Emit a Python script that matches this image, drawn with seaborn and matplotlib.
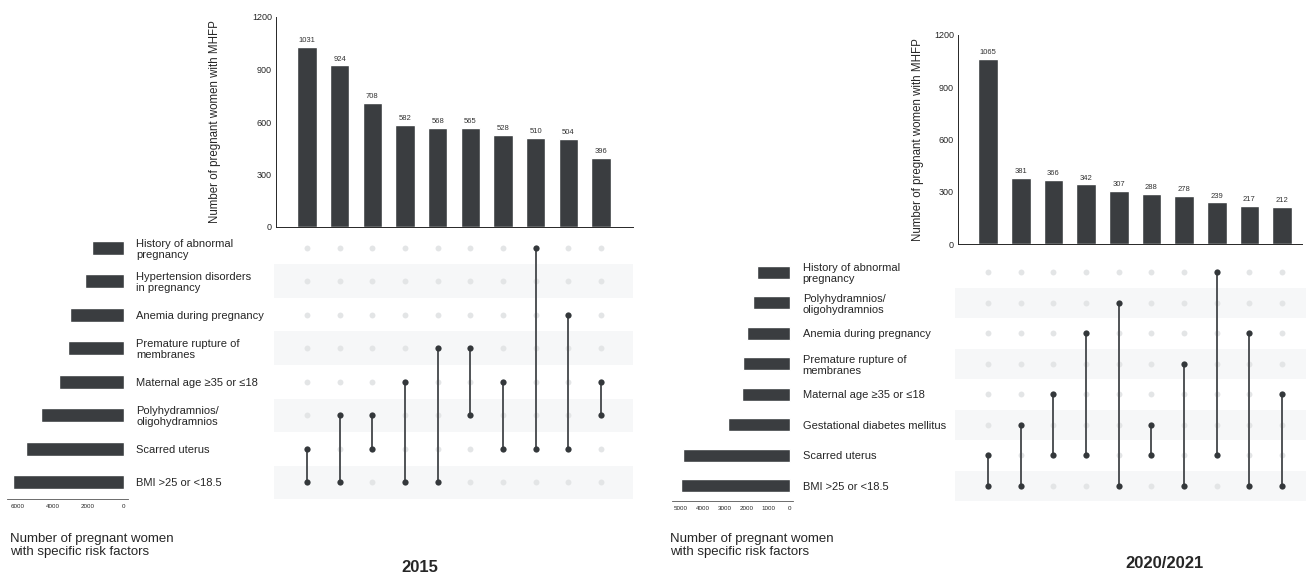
import matplotlib
matplotlib.use("Agg")
import matplotlib.pyplot as plt
import numpy as np
import pandas as pd
import seaborn as sns

# 2015 panel
SETS_2015 = ["History of abnormal\npregnancy", "Hypertension disorders\nin pregnancy",
             "Anemia during pregnancy", "Premature rupture of\nmembranes",
             "Maternal age \u226535 or \u226418", "Polyhydramnios/\noligohydramnios",
             "Scarred uterus", "BMI >25 or <18.5"]
SET_SIZES_2015 = [1780, 2180, 3030, 3120, 3630, 4680, 5510, 6260]
INTERSECT_2015 = [1031, 924, 708, 582, 568, 565, 528, 510, 504, 396]
# row indices (top = 0) that belong to each intersection column
MEMBERS_2015 = [(6, 7), (5, 7), (5, 6), (4, 7), (3, 7), (3, 5), (4, 6), (0, 6), (2, 6), (4, 5)]

# 2020/2021 panel
SETS_2021 = ["History of abnormal\npregnancy", "Polyhydramnios/\noligohydramnios",
             "Anemia during pregnancy", "Premature rupture of\nmembranes",
             "Maternal age \u226535 or \u226418", "Gestational diabetes mellitus",
             "Scarred uterus", "BMI >25 or <18.5"]
SET_SIZES_2021 = [1510, 1700, 1970, 2160, 2200, 2840, 4910, 5000]
INTERSECT_2021 = [1065, 381, 366, 342, 307, 288, 278, 239, 217, 212]
MEMBERS_2021 = [(6, 7), (5, 7), (4, 6), (2, 6), (1, 7), (5, 6), (3, 7), (0, 6), (2, 7), (4, 7)]

Y_TICKS = [0, 300, 600, 900, 1200]

BAR = "#3a3d40"
DOT_ON = "#34383b"
DOT_OFF = "#e3e5e6"
LINE = "#505356"
SHADE = "#f6f7f8"

W, H = 1306, 574


def box(x0, y0, x1, y1):
    # pixel box (top-left origin) -> figure fraction rect
    return [x0 / W, 1 - y1 / H, (x1 - x0) / W, (y1 - y0) / H]


def draw_upset(fig, sets, sizes, inter, members, layout):
    n_sets = len(sets)
    n_cols = len(inter)

    # intersection bars
    ax_bar = fig.add_axes(box(*layout["bar"]))
    df_bar = pd.DataFrame({"col": [str(i) for i in range(n_cols)], "count": inter})
    sns.barplot(data=df_bar, x="col", y="count", color=BAR, width=0.6,
                saturation=1, ax=ax_bar)
    for c in ax_bar.containers:
        ax_bar.bar_label(c, fontsize=5.5, padding=2, color="#333333")
    ax_bar.set_xlim(*layout["bar_xlim"])
    ax_bar.set_ylim(0, 1200)
    ax_bar.set_yticks(Y_TICKS)
    ax_bar.set_xticks([])
    ax_bar.set_xlabel("")
    ax_bar.set_ylabel("Number of pregnant women with MHFP", fontsize=8.3,
                      labelpad=layout["ylabel_pad"])
    ax_bar.tick_params(axis="y", labelsize=6.5, length=2, width=0.6, pad=1)
    for s in ["top", "right"]:
        ax_bar.spines[s].set_visible(False)
    ax_bar.spines["left"].set_linewidth(0.7)
    ax_bar.spines["bottom"].set_linewidth(0.7)

    # matrix
    ax_mat = fig.add_axes(box(*layout["mat"]))
    for r in range(1, n_sets, 2):
        ax_mat.axhspan(r - 0.5, r + 0.5, color=SHADE, lw=0, zorder=0)
    grid = pd.DataFrame([(c, r) for c in range(n_cols) for r in range(n_sets)],
                        columns=["col", "row"])
    sns.scatterplot(data=grid, x="col", y="row", color=DOT_OFF, s=18,
                    linewidth=0, ax=ax_mat, zorder=2)
    on = pd.DataFrame([(c, r) for c, rows in enumerate(members) for r in rows],
                      columns=["col", "row"])
    for c, rows in enumerate(members):
        ax_mat.vlines(c, min(rows), max(rows), color=LINE, lw=1.4, zorder=3)
    sns.scatterplot(data=on, x="col", y="row", color=DOT_ON, s=20,
                    linewidth=0, ax=ax_mat, zorder=4)
    ax_mat.set_xlim(*layout["mat_xlim"])
    ax_mat.set_ylim(n_sets - 0.5, -0.5)
    ax_mat.set_axis_off()

    # set sizes
    ax_set = fig.add_axes(box(*layout["set"]))
    df_set = pd.DataFrame({"set": sets, "size": sizes})
    sns.barplot(data=df_set, x="size", y="set", orient="h", color=BAR,
                width=0.42, saturation=1, ax=ax_set)
    ax_set.set_ylim(n_sets - 0.5, -0.5)
    ax_set.set_xlim(*layout["set_xlim"])
    ax_set.set_xticks(layout["set_ticks"])
    ax_set.tick_params(axis="x", labelsize=4.5, length=1.5, width=0.5, pad=2)
    ax_set.yaxis.tick_right()
    ax_set.tick_params(axis="y", length=0, labelsize=8, pad=layout["label_pad"])
    for lbl in ax_set.get_yticklabels():
        lbl.set_horizontalalignment("left")
        lbl.set_linespacing(1.15)
    ax_set.set_xlabel("")
    ax_set.set_ylabel("")
    for s in ["top", "right", "left"]:
        ax_set.spines[s].set_visible(False)
    ax_set.spines["bottom"].set_linewidth(0.6)
    ax_set.spines["bottom"].set_color("#555555")


def main():
    sns.set_theme(style="white")
    plt.rcParams["font.family"] = ["Liberation Sans", "DejaVu Sans"]

    fig = plt.figure(figsize=(W / 100, H / 100), dpi=100)

    draw_upset(fig, SETS_2015, SET_SIZES_2015, INTERSECT_2015, MEMBERS_2015, {
        "bar": (276, 17, 633, 227),
        "bar_xlim": (-0.95, 9.98),
        "mat": (274, 231, 633, 499),
        "mat_xlim": (-1.01, 9.98),
        "set": (7, 231, 128, 499),
        "set_xlim": (6580, -250),
        "set_ticks": [6000, 4000, 2000, 0],
        "label_pad": 6,
        "ylabel_pad": 22,
    })
    draw_upset(fig, SETS_2021, SET_SIZES_2021, INTERSECT_2021, MEMBERS_2021, {
        "bar": (958, 35, 1302, 244),
        "bar_xlim": (-0.92, 9.61),
        "mat": (955, 257, 1306, 501),
        "mat_xlim": (-1.01, 9.73),
        "set": (672, 257, 793, 501),
        "set_xlim": (5410, -140),
        "set_ticks": [5000, 4000, 3000, 2000, 1000, 0],
        "label_pad": 7,
        "ylabel_pad": 7,
    })

    fig.text(10 / W, 1 - 533 / H, "Number of pregnant women\nwith specific risk factors",
             fontsize=9.5, va="top", ha="left", linespacing=1.15)
    fig.text(670 / W, 1 - 533 / H, "Number of pregnant women\nwith specific risk factors",
             fontsize=9.5, va="top", ha="left", linespacing=1.15)
    fig.text(420 / W, 1 - 567 / H, "2015", fontsize=12, fontweight="bold",
             ha="center", va="center")
    fig.text(1165 / W, 1 - 563 / H, "2020/2021", fontsize=12, fontweight="bold",
             ha="center", va="center")

    fig.savefig("out.png", dpi=100)


if __name__ == "__main__":
    main()
